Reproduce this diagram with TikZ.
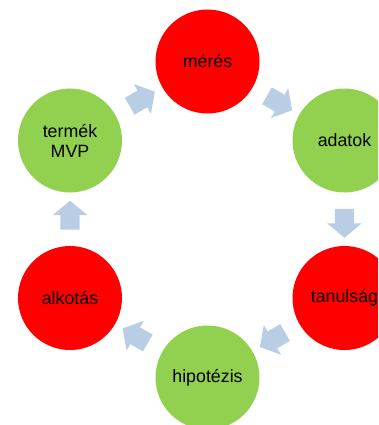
\documentclass[tikz,border=0pt]{standalone}
\usepackage{fontspec}
\setmainfont{Liberation Sans}
\usetikzlibrary{shapes.arrows,calc}
\definecolor{cred}{HTML}{FF0000}
\definecolor{cgreen}{HTML}{92D050}
\definecolor{carrow}{HTML}{B9CDE5}
\tikzset{
  stage/.style={circle, minimum size=104pt, inner sep=0pt, align=center,
    font=\fontsize{17.8}{20}\selectfont, text=black},
  redstage/.style={stage, fill=cred},
  greenstage/.style={stage, fill=cgreen},
  blockarrow/.style={single arrow, fill=carrow, draw=none, inner sep=0pt,
    text height=9.5pt, text depth=9.5pt, text width=1pt,
    minimum height=29pt, single arrow head extend=7.5pt,
    single arrow tip angle=100, single arrow head indent=0pt}
}
\begin{document}
\begin{tikzpicture}[x=1pt,y=-1pt]
\useasboundingbox (0,0) rectangle (378,425);
\clip (0,0) rectangle (378,425);
\node[redstage]   (meres)    at (207.5,61.5)  {mérés};
\node[greenstage] (adatok)   at (344.5,140.5) {adatok};
\node[redstage]   (tanulsag) at (344.5,298)   {tanulság};
\node[greenstage] (hipo)     at (207.5,377.5) {hipotézis};
\node[redstage]   (alkotas)  at (70,298)      {alkotás};
\node[greenstage] (mvp)      at (70,140.5)    {termék\\MVP};
\node[blockarrow, rotate=30]  (a1) at ($(mvp)!0.5!(meres)$) {};
\node[blockarrow, rotate=-30] (a2) at ($(meres)!0.5!(adatok)$) {};
\node[blockarrow, rotate=-90] (a3) at ($(adatok)!0.5!(tanulsag)$) {};
\node[blockarrow, rotate=210] (a4) at ($(tanulsag)!0.5!(hipo)$) {};
\node[blockarrow, rotate=150] (a5) at ($(hipo)!0.5!(alkotas)$) {};
\node[blockarrow, rotate=90]  (a6) at ($(alkotas)!0.5!(mvp)$) {};
\end{tikzpicture}
\end{document}
